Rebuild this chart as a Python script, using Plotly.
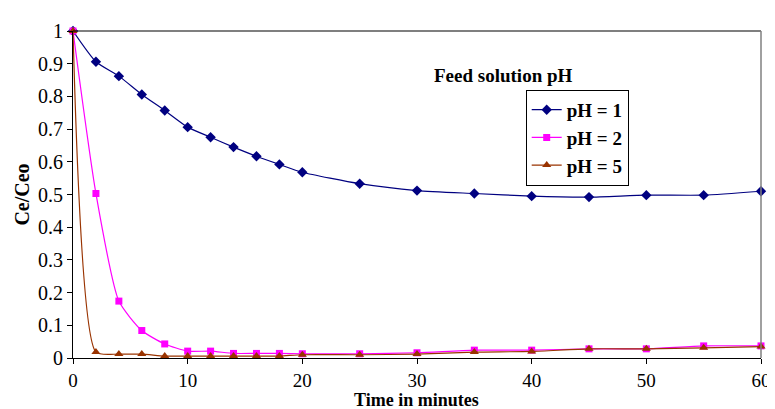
import plotly.graph_objects as go

# datos
tiempo = [0, 2, 4, 6, 8, 10, 12, 14, 16, 18, 20, 25, 30, 35, 40, 45, 50, 55, 60]
ph1 = [1.0, 0.906, 0.862, 0.806, 0.757, 0.706, 0.675, 0.645, 0.617, 0.592, 0.568,
       0.533, 0.512, 0.503, 0.495, 0.492, 0.498, 0.498, 0.510]
ph2 = [1.0, 0.503, 0.174, 0.084, 0.043, 0.021, 0.021, 0.014, 0.014, 0.014, 0.013,
       0.013, 0.016, 0.024, 0.024, 0.028, 0.028, 0.037, 0.037]
ph5 = [1.0, 0.018, 0.012, 0.012, 0.006, 0.006, 0.006, 0.006, 0.006, 0.006, 0.010,
       0.010, 0.012, 0.018, 0.020, 0.028, 0.028, 0.031, 0.035]

series = [
    ('pH = 1', ph1, '#000080', 'diamond', 8),
    ('pH = 2', ph2, '#FF00FF', 'square', 7),
    ('pH = 5', ph5, '#993300', 'triangle-up', 8),
]

fuente = 'Liberation Serif'

fig = go.Figure()
for nombre, vals, color, simbolo, tam in series:
    fig.add_trace(go.Scatter(
        x=tiempo, y=vals, name='<b>' + nombre + '</b>', mode='lines+markers',
        line=dict(color=color, width=1.2, shape='spline', smoothing=0.6),
        marker=dict(symbol=simbolo, size=tam, color=color),
        cliponaxis=False
    ))

# el body de la pagina tiene 8px de margen, se compensa en los margenes
fig.update_layout(
    width=775, height=409,
    paper_bgcolor='white', plot_bgcolor='white',
    font=dict(family=fuente, color='black', size=19),
    margin=dict(l=65, r=20, t=12, b=59),
    showlegend=True,
    legend=dict(x=0.658, y=0.82, xanchor='left', yanchor='top',
                bordercolor='black', borderwidth=1, bgcolor='white',
                font=dict(family=fuente, size=19, color='black'),
                tracegroupgap=0),
    annotations=[
        dict(text='<b>Feed solution pH</b>', x=0.730, y=0.902,
             xref='paper', yref='paper', showarrow=False,
             font=dict(family=fuente, size=19, color='black')),
        dict(text='<b>Time in minutes</b>', x=0.499, y=-0.127,
             xref='paper', yref='paper', showarrow=False, yanchor='middle',
             font=dict(family=fuente, size=18, color='black')),
    ],
    shapes=[
        dict(type='line', xref='paper', yref='paper', x0=0, x1=1, y0=1, y1=1,
             line=dict(color='black', width=1.2)),
        dict(type='line', xref='paper', yref='paper', x0=1, x1=1, y0=0, y1=1,
             line=dict(color='#808080', width=1.5)),
    ]
)

fig.update_xaxes(
    range=[0, 60], dtick=10, showgrid=False, zeroline=False,
    showline=True, linecolor='black', linewidth=1.2,
    ticks='outside', ticklen=5, tickcolor='black',
    tickfont=dict(family=fuente, size=19)
)
fig.update_yaxes(
    range=[0, 1], dtick=0.1, showgrid=False, zeroline=False,
    showline=True, linecolor='black', linewidth=1.2,
    ticks='outside', ticklen=5, tickcolor='black',
    tickfont=dict(family=fuente, size=20),
    title=dict(text='<b>Ce/Ceo</b>', font=dict(family=fuente, size=20), standoff=2)
)

fig.write_html('out.html')
